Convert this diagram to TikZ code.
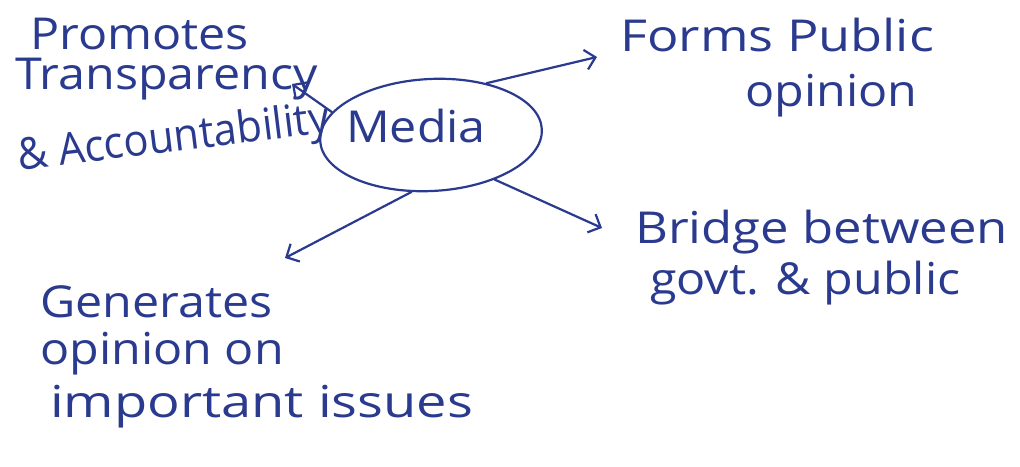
\documentclass[tikz,border=0pt]{standalone}
\usepackage{fontspec}
\usepackage{graphicx}
\setmainfont[FakeStretch=1.1]{Open Sans}
\usetikzlibrary{arrows.meta,shapes.geometric}
\definecolor{ink}{HTML}{2A3A8E}
\tikzset{
  hand/.style={text=ink, font=\fontsize{44}{48}\selectfont, align=left, inner sep=0pt},
  link/.style={draw=ink, line width=2.2pt, line cap=round,
    -{Straight Barb[length=10pt,width=20pt,line width=2.2pt]}},
}
\begin{document}
\begin{tikzpicture}[x=1pt,y=1pt]
\useasboundingbox (0,0) rectangle (1020,466);
\fill[white] (0,0) rectangle (1020,466);
% central ellipse
\node[ellipse, draw=ink, line width=2.2pt, minimum width=222pt, minimum height=112pt, rotate=3] (media) at (431,331) {};
\node[hand] (mediatext) at (416,340) {Media};
% labels
\node[hand, anchor=north west] (promo) at (15,448) {\hspace*{15pt}Promotes\\[-8pt]Transparency\\[-2pt]\rotatebox{7}{\scalebox{0.86}[1]{\& Accountability}}};
\node[hand, anchor=north west] (forms) at (620,448) {\scalebox{1.08}[1]{Forms Public}\\[7pt]\hspace*{125pt}opinion};
\node[hand, anchor=north west] (bridge) at (635,256) {\scalebox{1.05}[1]{Bridge between}\\[3pt]\hspace*{15pt}govt. \& public};
\node[hand, anchor=north west] (gen) at (40,181) {Generates\\[-1pt]opinion on\\[5pt]\hspace*{10pt}\scalebox{1.12}[1]{important issues}};
% arrow tips
\coordinate (tipA) at (292,382);
\coordinate (tipB) at (597,409);
\coordinate (tipC) at (602,238);
\coordinate (tipD) at (285,208);
\draw[link] (media.164) -- (tipA);
\draw[link] (media.40) -- (tipB);
\draw[link] (media.-38) -- (tipC);
\draw[link] (media.-112) -- (tipD);
\end{tikzpicture}
\end{document}
